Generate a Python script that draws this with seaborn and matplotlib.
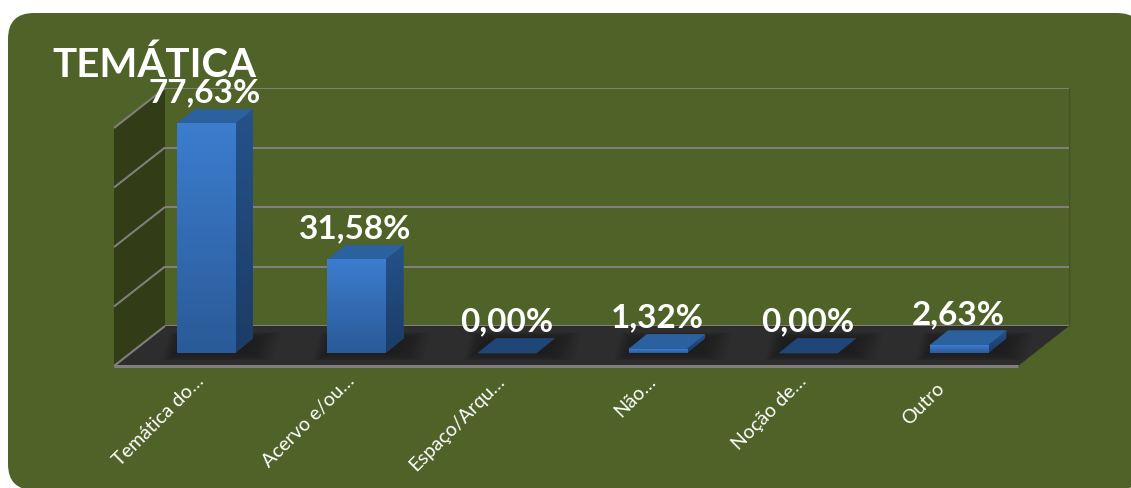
import numpy as np
import pandas as pd
import matplotlib
matplotlib.use("Agg")
import matplotlib.pyplot as plt
import seaborn as sns
from matplotlib.patches import FancyBboxPatch, Polygon
from matplotlib.colors import LinearSegmentedColormap
from matplotlib.transforms import ScaledTranslation

categories = ["Temática do…", "Acervo e/ou…", "Espaço/Arqu…", "Não…", "Noção de…", "Outro"]
values = [77.63, 31.58, 0.00, 1.32, 0.00, 2.63]
chart_title = "TEMÁTICA"
grid_values = [0, 20, 40, 60, 80]

W, H = 1131, 488
sns.set_theme(style="white")
plt.rcParams["font.family"] = ["Lato", "DejaVu Sans"]

GREEN = "#4F6228"
WALL = "#323C16"
FLOOR = "#2D2D2D"
GRID = "#807F7B"


def px_axes(fig, left, top, right, bottom, **kw):
    return fig.add_axes([left / W, 1 - bottom / H, (right - left) / W, (bottom - top) / H], **kw)


fig = plt.figure(figsize=(W / 100, H / 100), dpi=100, facecolor="white")

# chart area, floor and side wall
bg = px_axes(fig, 0, 0, W, H, zorder=0)
bg.set_xlim(0, W)
bg.set_ylim(H, 0)
bg.axis("off")
bg.add_patch(FancyBboxPatch((8 + 26, 13 + 26), 1143 - 8 - 52, 490 - 13 - 52,
                            boxstyle="round,pad=26,rounding_size=26", fc=GREEN, ec="none", clip_on=True))
bg.add_patch(Polygon([(114, 128), (165, 88), (165, 326), (114, 366)], fc=WALL, ec="none"))
bg.add_patch(Polygon([(114, 366), (165, 326), (1069, 326), (1018, 366)], fc=FLOOR, ec="none"))
bg.plot([1069, 1069], [88, 326], color="#465622", lw=1)
PX_PER_GRID = (326 - 88) / (grid_values[-1] - grid_values[0])
for g in grid_values:
    y = 326 - g * PX_PER_GRID
    bg.plot([114, 165], [y + 40, y], color=GRID, lw=1.5, solid_capstyle="butt")
bg.plot([114, 1018], [366, 366], color=GRID, lw=2.2, solid_capstyle="butt")

# back wall with the value grid
wall = px_axes(fig, 165, 88, 1069, 326, zorder=1)
wall.patch.set_alpha(0)
wall.set_ylim(grid_values[0], grid_values[-1])
wall.set_xlim(0, 1)
wall.set_yticks(grid_values)
wall.set_xticks([])
wall.yaxis.grid(True, color=GRID, lw=1.5)
wall.tick_params(left=False, labelleft=False)
for s in wall.spines.values():
    s.set_visible(False)

# bars
df = pd.DataFrame({"categoria": categories, "valor": values})
ax = px_axes(fig, 130.5, 117, 1034.5, 353, zorder=2)
ax.patch.set_alpha(0)
sns.barplot(data=df, x="categoria", y="valor", width=0.385, color="#3B7BCB", saturation=1,
            linewidth=0, edgecolor="none", ax=ax)
ax.set_xlim(-0.5, 5.5)
ax.set_ylim(0, 80)
ax.set_xlabel("")
ax.set_ylabel("")
ax.set_yticks([])
for s in ax.spines.values():
    s.set_visible(False)

DX = 18 / 150.6
DY = 14.5 / 2.95
front = LinearSegmentedColormap.from_list("f", ["#2A5A98", "#3C7DCE"])
side = LinearSegmentedColormap.from_list("s", ["#1B3C66", "#25528A"])
grad = np.linspace(1, 0, 64).reshape(-1, 1)

for bar in list(ax.patches):
    x, w, h = bar.get_x(), bar.get_width(), bar.get_height()
    # soft floor shadow
    for k in range(2, 30, 3):
        sx = k / 150.6
        sy = min(k * 0.3, 7) / 2.95
        ax.add_patch(Polygon([(x - sx * 0.5, 0 - sy), (x + w + DX * 0.5 + sx, 0 - sy),
                              (x + w + DX * 0.9 + sx, DY * 0.9 + sy), (x + DX * 0.4 - sx * 0.5, DY * 0.9 + sy)],
                             fc="#151515", ec="none", alpha=0.075, zorder=1, clip_on=False))
    top_col = "#1F4677" if h <= 0 else "#2B619F"
    ax.add_patch(Polygon([(x, h), (x + DX, h + DY), (x + w + DX, h + DY), (x + w, h)],
                         fc=top_col, ec=top_col, lw=0.6, joinstyle="round", zorder=2, clip_on=False))
    if h > 0:
        sp = Polygon([(x + w, 0), (x + w + DX, DY), (x + w + DX, h + DY), (x + w, h)],
                     fc="#25528A", ec="none", zorder=2, clip_on=False)
        ax.add_patch(sp)
        im = ax.imshow(grad, extent=[x + w, x + w + DX, 0, h + DY], cmap=side, vmin=0, vmax=1,
                       aspect="auto", zorder=2.1, clip_on=True)
        im.set_clip_path(sp)
        bar.set_zorder(3)
        bar.set_clip_on(False)
        im2 = ax.imshow(grad, extent=[x, x + w, 0, h], cmap=front, vmin=0, vmax=1,
                        aspect="auto", zorder=3.1, clip_on=False)
        im2.set_clip_path(bar)
    else:
        bar.set_visible(False)

ax.set_xlim(-0.5, 5.5)
ax.set_ylim(0, 80)

labels = [f"{v:.2f}%".replace(".", ",") for v in values]
for lab, bar in zip(labels, ax.patches):
    ax.annotate(lab, (bar.get_x() + bar.get_width() / 2, bar.get_height()), xytext=(-0.7, 15.4),
                textcoords="offset points", ha="center", va="baseline", color="white",
                fontsize=24, fontweight="bold", zorder=6, annotation_clip=False)

ax.set_xticks(range(len(categories)))
ax.set_xticklabels(categories, rotation=45, ha="right", rotation_mode="anchor",
                   color="white", fontsize=14)
ax.tick_params(axis="x", bottom=False, pad=8)
# shift rotated labels so that their ends sit as in the reference; short last label sits lower and further left
for i, t in enumerate(ax.get_xticklabels()):
    dx, dy = (-24, -7) if categories[i] == "Outro" else (-11, 0)
    t.set_transform(t.get_transform() + ScaledTranslation(dx / 100, dy / 100, fig.dpi_scale_trans))

fig.text(52 / W, 1 - 77 / H, chart_title, color="white", fontsize=29, fontweight="bold",
         ha="left", va="baseline", zorder=10)

fig.savefig("out.png", dpi=100, facecolor="white")
